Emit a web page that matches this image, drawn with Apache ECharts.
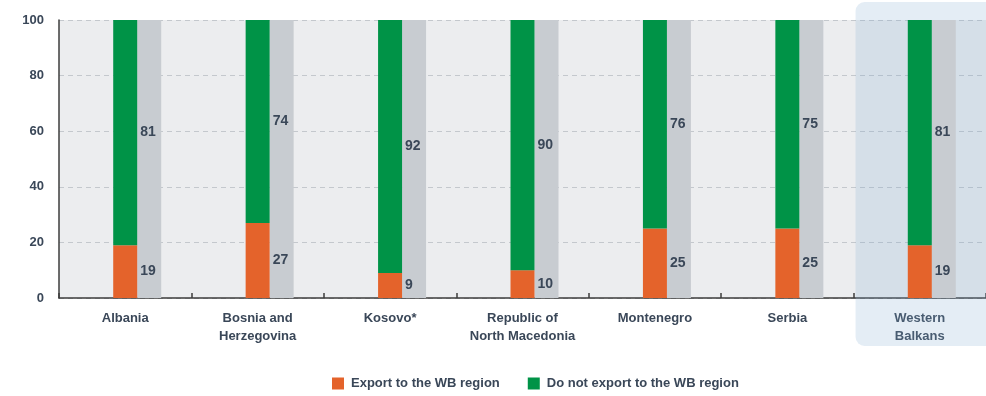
<!DOCTYPE html>
<html>
<head>
<meta charset="utf-8">
<script src="https://cdn.jsdelivr.net/npm/echarts@6/dist/echarts.min.js"></script>
<style>
  html, body { margin: 0; padding: 0; background: #fff; }
  #chart { width: 986px; height: 396px; }
</style>
</head>
<body>
<div id="chart"></div>
<script>
// Share of firms by whether they export to the Western Balkans region (%)
const categories = ['Albania', 'Bosnia and\nHerzegovina', 'Kosovo*', 'Republic of\nNorth Macedonia', 'Montenegro', 'Serbia', 'Western\nBalkans'];
const exportWB = [19, 27, 9, 10, 25, 25, 19];
const noExportWB = [81, 74, 92, 90, 76, 75, 81];
const fullScale = [100, 100, 100, 100, 100, 100, 100];
const yTicks = [0, 20, 40, 60, 80, 100];
const highlightCategory = 'Western\nBalkans';

const FONT = '"Liberation Sans", Arial, sans-serif';
const TEXT = '#3a4758';

const chart = echarts.init(document.getElementById('chart'));

const valueLabel = {
  show: true,
  position: 'right',
  distance: 3,
  color: TEXT,
  fontFamily: FONT,
  fontWeight: 'bold',
  fontSize: 14,
  formatter: '{c}'
};

chart.setOption({
  animation: false,
  textStyle: { fontFamily: FONT },
  grid: {
    left: 59, right: 0, top: 20, bottom: 98,
    show: true, backgroundColor: '#ecedef', borderWidth: 0
  },
  legend: {
    data: ['Export to the WB region', 'Do not export to the WB region'],
    left: 327, top: 372,
    itemWidth: 12, itemHeight: 12, itemGap: 28,
    icon: 'rect',
    textStyle: { color: TEXT, fontFamily: FONT, fontWeight: 'bold', fontSize: 13, padding: [0, 0, 0, 2] }
  },
  xAxis: {
    type: 'category',
    data: categories,
    axisLine: { lineStyle: { color: '#3c3c3c', width: 1.5 } },
    axisTick: { show: true, inside: true, interval: 0, length: 5, lineStyle: { color: '#3c3c3c', width: 1.5 } },
    axisLabel: { interval: 0, color: TEXT, fontFamily: FONT, fontWeight: 'bold', fontSize: 13, lineHeight: 18, margin: 11 },
    splitLine: { show: false }
  },
  yAxis: {
    type: 'value',
    min: yTicks[0], max: yTicks[yTicks.length - 1], interval: 20,
    axisLine: { show: true, lineStyle: { color: '#3c3c3c', width: 1.5 } },
    axisTick: { show: false },
    axisLabel: { color: TEXT, fontFamily: FONT, fontWeight: 'bold', fontSize: 13, margin: 15 },
    splitLine: { show: true, lineStyle: { color: '#c4c8cd', type: [5, 4], width: 1 } }
  },
  series: [
    { type: 'bar', data: categories.map(() => '-'), barWidth: 24, barGap: '0%', silent: true },
    {
      name: 'Export to the WB region', type: 'bar', stack: 'share',
      data: exportWB, barWidth: 24, barGap: '0%',
      itemStyle: { color: '#e4632b' }, label: valueLabel, z: 3
    },
    {
      name: 'Do not export to the WB region', type: 'bar', stack: 'share',
      data: noExportWB, barWidth: 24, barGap: '0%',
      itemStyle: { color: '#009347' }, label: valueLabel, z: 3
    },
    {
      type: 'bar', data: fullScale, barWidth: 24, barGap: '0%',
      itemStyle: { color: '#c8ccd1' }, silent: true, z: 2
    }
  ]
});

// Soft panel behind the regional aggregate, spanning its category band
const cx = chart.convertToPixel({ xAxisIndex: 0 }, highlightCategory);
const band = (986 - 59) / categories.length;
chart.setOption({
  graphic: [{
    type: 'rect', z: 1, silent: true,
    shape: { x: cx - band / 2 + 2, y: 2, width: band + 10, height: 344, r: 9 },
    style: { fill: 'rgba(126,169,207,0.21)' }
  }]
});
</script>
</body>
</html>
